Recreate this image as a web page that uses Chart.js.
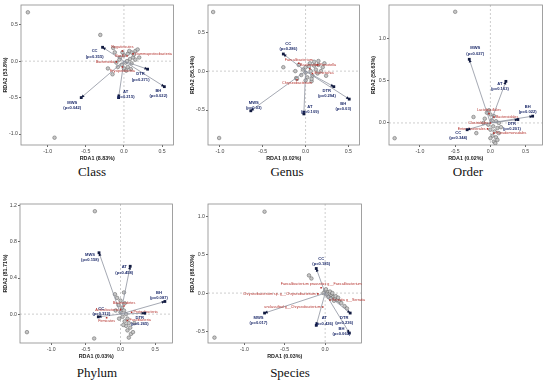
<!DOCTYPE html>
<html>
<head>
<meta charset="utf-8">
<script src="https://cdn.jsdelivr.net/npm/chart.js@4.4.0/dist/chart.umd.min.js"></script>
<style>
  body { margin: 0; background: #fff; width: 550px; height: 382px; position: relative; overflow: hidden; }
  .panel { position: absolute; }
  .cap { position: absolute; font-family: "Liberation Serif", "DejaVu Serif", serif; font-size: 13px; color: #111; transform: translate(-50%, -50%); white-space: nowrap; }
</style>
</head>
<body>
<script>
// environmental factors, same order in every panel
const envNames = ['CC', 'MWS', 'AT', 'DTR', 'BH'];

// ---- Class ----
const classSites = [[-1.26,0.67],[-0.31,0.36],[-0.91,-1.05],[-0.21,-0.10],[-0.15,-0.18],[-0.14,0.18],
  [-0.12,0.12],[-0.05,0.05],[0.0,0.08],[0.05,0.1],[0.1,0.12],[0.15,0.14],[0.18,0.16],[0.08,0.03],[0.12,0.05],
  [0.02,-0.02],[-0.03,-0.05],[0.0,-0.1],[0.05,-0.08],[-0.08,-0.08],[0.1,-0.03],[0.15,0.02],[0.07,0.14],
  [-0.02,0.12],[0.04,0.0],[0.13,0.09],[0.2,0.05],[-0.06,0.02],[0.03,-0.13],[-0.1,-0.02],[0.09,-0.11]];
const classTaxa = ['Negativicutes', 'Bacilli', 'Gammaproteobacteria', 'Bacteroidia', 'Erysipelotrichia'];
const classTaxaXY = [[-0.02,0.14],[0.04,0.07],[0.12,0.1],[-0.1,-0.01],[-0.02,-0.08]];
const classEnvXY = [[-0.28,0.19],[-0.56,-0.50],[-0.07,-0.50],[0.31,-0.11],[0.53,-0.35]];
const classEnvP = ['0.355', '0.042', '0.215', '0.271', '0.022'];
const classXTicks = [-1.0, -0.5, 0.0, 0.5];
const classYTicks = [-1.0, -0.5, 0.0, 0.5];

// ---- Genus ----
const genusSites = [[-1.08,0.76],[-1.01,-0.86],[-0.26,0.05],[0.07,-0.13],[0.24,-0.06],[-0.11,-0.09],
  [-0.08,0.08],[0.0,0.05],[0.05,0.1],[0.1,0.12],[0.15,0.08],[0.2,0.05],[0.12,0.02],[0.06,0.0],[0.0,-0.02],
  [-0.05,-0.05],[0.02,-0.08],[0.08,-0.06],[0.14,-0.03],[0.18,0.0],[-0.03,0.02],[0.1,0.07],[0.04,0.06],
  [-0.1,-0.1],[0.0,-0.12],[0.22,0.1],[0.15,0.13],[0.07,-0.1],[-0.12,0.0]];
const genusTaxa = ['Faecalibacterium', 'Prevotella', 'Bacteroides', 'Escherichia', 'Chryseobacterium'];
const genusTaxaXY = [[-0.08,0.1],[0.14,0.08],[0.05,0.03],[0.08,-0.03],[-0.1,-0.11]];
const genusEnvXY = [[-0.26,0.22],[-0.64,-0.51],[-0.02,-0.55],[0.33,-0.2],[0.51,-0.36]];
const genusEnvP = ['0.286', '0.03', '0.109', '0.294', '0.03'];
const genusXTicks = [-1.0, -0.5, 0.0, 0.5];
const genusYTicks = [-0.5, 0.0, 0.5];

// ---- Order ----
const orderSites = [[-0.5,1.31],[-1.36,-0.18],[-0.24,0.07],[-0.2,-0.12],
  [-0.05,0.12],[0.0,0.1],[0.05,0.08],[-0.08,0.05],[0.02,0.03],[0.08,0.02],[0.12,0.0],[-0.03,-0.02],
  [0.04,-0.04],[0.1,-0.06],[0.0,-0.08],[0.06,-0.1],[0.12,-0.12],[0.03,-0.15],[0.08,-0.17],[0.1,-0.2],
  [0.05,-0.22],[-0.1,0.0],[0.15,-0.05],[-0.02,0.15],[0.0,-0.18],[0.07,-0.24]];
const orderTaxa = ['Lactobacillales', 'Bacteroidales', 'Clostridiales', 'Enterobacterales', 'Pseudomonadales'];
const orderTaxaXY = [[-0.02,0.11],[0.05,0.07],[0.0,0.0],[-0.04,-0.07],[0.05,-0.12]];
const orderEnvXY = [[-0.33,-0.08],[-0.3,0.75],[0.22,0.49],[0.39,0.04],[0.6,0.08]];
const orderEnvP = ['0.344', '0.027', '0.163', '0.201', '0.022'];
const orderXTicks = [-1.0, -0.5, 0.0, 0.5];
const orderYTicks = [0.0, 0.5, 1.0];

// ---- Phylum ----
const phylumSites = [[-0.37,1.14],[-1.35,-0.2],[-0.38,-0.27],[-0.08,0.22],[0.05,0.24],
  [-0.05,0.18],[0.0,0.15],[-0.03,0.1],[0.02,0.07],[0.05,0.04],[0.0,0.02],[0.08,0.0],[0.03,-0.03],
  [0.1,-0.05],[0.06,-0.08],[0.12,-0.1],[0.08,-0.13],[0.14,-0.15],[0.1,-0.18],[0.15,-0.22],[0.12,-0.26],
  [0.18,-0.2],[-0.02,-0.05],[0.04,-0.12],[0.2,-0.1],[0.06,0.12],[-0.07,0.04]];
const phylumTaxa = ['Bacteroidetes', 'Actinobacteria', 'Proteobacteria', 'Firmicutes', 'Fusobacteria'];
const phylumTaxaXY = [[0.05,0.09],[0.0,0.05],[0.16,0.02],[-0.2,-0.04],[0.1,-0.07]];
const phylumEnvXY = [[-0.32,-0.03],[-0.31,0.68],[0.14,0.53],[0.35,0.01],[0.64,0.14]];
const phylumEnvP = ['0.312', '0.158', '0.458', '0.265', '0.087'];
const phylumXTicks = [-1.0, -0.5, 0.0, 0.5];
const phylumYTicks = [0.0, 0.4, 0.8, 1.2];

// ---- Species ----
const speciesSites = [[-0.75,1.06],[-1.37,-0.58],[-0.2,0.23],[-0.17,0.19],
  [0.0,0.03],[0.03,0.01],[0.05,-0.01],[0.08,-0.03],[0.1,-0.05],[0.12,-0.07],[0.15,-0.09],[0.18,-0.11],
  [0.2,-0.13],[0.02,-0.02],[0.06,0.02],[0.09,0.0],[0.04,-0.05],[0.07,-0.07],[0.13,-0.04],[-0.02,0.0],
  [0.11,-0.1],[0.24,-0.17],[0.27,-0.2],[0.01,0.05],[0.16,-0.06]];
const speciesTaxa = ['Faecalibacterium prausnitzii g__Faecalibacterium', 'Chryseobacterium sp. g__Chryseobacterium',
  'Serratia g__Serratia', 'unclassified g__Chryseobacterium'];
const speciesTaxaXY = [[-0.05,0.07],[-0.09,-0.01],[0.06,-0.09],[-0.03,-0.18]];
const speciesEnvXY = [[-0.11,0.32],[-0.75,-0.26],[-0.11,-0.42],[0.31,-0.26],[0.3,-0.52]];
const speciesEnvP = ['0.185', '0.017', '0.426', '0.236', '0.065'];
const speciesXTicks = [-1.0, -0.5, 0.0];
const speciesYTicks = [-0.5, 0.0, 0.5, 1.0];

const NAVY = '#1d2b6b';
const RED = '#b3302b';
const FONT = '"Liberation Sans", Arial, sans-serif';

function decorPlugin(p) {
  return {
    id: 'rdaDecor',
    beforeDatasetsDraw(chart) {
      const {ctx, chartArea: a, scales: {x, y}} = chart;
      ctx.save();
      ctx.strokeStyle = '#b8b8b8';
      ctx.lineWidth = 0.7;
      ctx.setLineDash([2, 2]);
      const x0 = x.getPixelForValue(0), y0 = y.getPixelForValue(0);
      ctx.beginPath();
      ctx.moveTo(x0, a.top); ctx.lineTo(x0, a.bottom);
      ctx.moveTo(a.left, y0); ctx.lineTo(a.right, y0);
      ctx.stroke();
      ctx.restore();
    },
    afterDatasetsDraw(chart) {
      const {ctx, chartArea: a} = chart;
      ctx.save();
      // frame
      ctx.strokeStyle = '#8a8a8a';
      ctx.lineWidth = 0.8;
      ctx.strokeRect(a.left, a.top, a.right - a.left, a.bottom - a.top);

      // taxa labels
      const tm = chart.getDatasetMeta(p.taxaIndex);
      ctx.fillStyle = RED;
      ctx.font = '3.7px ' + FONT;
      ctx.textBaseline = 'middle';
      p.taxa.forEach((name, i) => {
        const pt = tm.data[i];
        const al = p.taxaAlign[i];
        if (al === 'r') { ctx.textAlign = 'left'; ctx.fillText(name, pt.x + 2, pt.y); }
        else if (al === 'l') { ctx.textAlign = 'right'; ctx.fillText(name, pt.x - 2, pt.y); }
        else if (al === 'a') { ctx.textAlign = 'center'; ctx.fillText(name, pt.x, pt.y - 3.5); }
        else { ctx.textAlign = 'center'; ctx.fillText(name, pt.x, pt.y + 3.5); }
      });

      // arrow heads and factor labels
      envNames.forEach((n, i) => {
        const m = chart.getDatasetMeta(p.envStart + i);
        const s = m.data[0], e = m.data[1];
        const ang = Math.atan2(e.y - s.y, e.x - s.x);
        ctx.fillStyle = '#111a40';
        ctx.beginPath();
        ctx.moveTo(e.x, e.y);
        ctx.lineTo(e.x - 3.5 * Math.cos(ang - 0.45), e.y - 3.5 * Math.sin(ang - 0.45));
        ctx.lineTo(e.x - 3.5 * Math.cos(ang + 0.45), e.y - 3.5 * Math.sin(ang + 0.45));
        ctx.closePath();
        ctx.fill();
        ctx.fillRect(e.x - 1.4, e.y - 1.4, 2.8, 2.8);
        const [dx, dy] = p.envLabelOff[i];
        ctx.fillStyle = NAVY;
        ctx.textAlign = 'center';
        ctx.font = 'bold 4.1px ' + FONT;
        ctx.fillText(n, e.x + dx, e.y + dy);
        ctx.fillText('(p=' + p.envP[i] + ')', e.x + dx, e.y + dy + 5.2);
      });
      ctx.restore();
    }
  };
}

function makePanel(p) {
  const div = document.createElement('div');
  div.className = 'panel';
  div.style.left = p.box[0] + 'px';
  div.style.top = p.box[1] + 'px';
  const cv = document.createElement('canvas');
  cv.width = p.box[2]; cv.height = p.box[3];
  cv.style.width = p.box[2] + 'px'; cv.style.height = p.box[3] + 'px';
  div.appendChild(cv);
  document.body.appendChild(div);

  const cap = document.createElement('div');
  cap.className = 'cap';
  cap.textContent = p.caption;
  cap.style.left = p.capPos[0] + 'px';
  cap.style.top = p.capPos[1] + 'px';
  document.body.appendChild(cap);

  const datasets = [];
  datasets.push({
    type: 'scatter', label: 'taxa', order: 0,
    data: p.taxaXY.map(([x, y]) => ({x, y})),
    pointRadius: 1.1, pointStyle: 'rect', backgroundColor: RED, borderColor: RED, borderWidth: 0
  });
  p.taxaIndex = 0;
  p.envStart = 1;
  p.envXY.forEach(([x, y]) => {
    datasets.push({
      type: 'line', order: 1,
      data: [{x: 0, y: 0}, {x, y}],
      borderColor: '#8e93a0', borderWidth: 0.8, pointRadius: 0, fill: false
    });
  });
  datasets.push({
    type: 'scatter', label: 'sites', order: 2,
    data: p.sites.map(([x, y]) => ({x, y})),
    pointRadius: 1.8, backgroundColor: '#c6c6c6', borderColor: '#5a5a5a', borderWidth: 0.5
  });

  const tickFont = {family: FONT, size: 5.2};
  const titleFont = {family: FONT, size: 5.4, weight: 'bold'};
  new Chart(cv, {
    type: 'scatter',
    data: {datasets},
    options: {
      responsive: false,
      animation: false,
      events: [],
      layout: {padding: {top: 5, right: 1, left: 0, bottom: 0}},
      plugins: {legend: {display: false}, tooltip: {enabled: false}},
      scales: {
        x: {
          type: 'linear', min: p.xRange[0], max: p.xRange[1],
          afterBuildTicks: s => { s.ticks = p.xTicks.map(v => ({value: v})); },
          afterFit: s => { s.height = p.xAxisH; },
          ticks: {font: tickFont, color: '#444', padding: 1, maxRotation: 0, callback: v => v.toFixed(1)},
          grid: {drawOnChartArea: false, drawTicks: true, tickLength: 2, color: '#666'},
          border: {display: false},
          title: {display: true, text: p.xTitle, font: titleFont, color: '#222', padding: {top: 0, bottom: 1}}
        },
        y: {
          type: 'linear', min: p.yRange[0], max: p.yRange[1],
          afterBuildTicks: s => { s.ticks = p.yTicks.map(v => ({value: v})); },
          afterFit: s => { s.width = p.yAxisW; },
          ticks: {font: tickFont, color: '#444', padding: 1, callback: v => v.toFixed(1)},
          grid: {drawOnChartArea: false, drawTicks: true, tickLength: 2, color: '#666'},
          border: {display: false},
          title: {display: true, text: p.yTitle, font: titleFont, color: '#222', padding: {top: 2, bottom: 0}}
        }
      }
    },
    plugins: [decorPlugin(p)]
  });
}

makePanel({
  caption: 'Class', capPos: [92, 172], box: [0, 0, 178, 163], yAxisW: 21, xAxisH: 18,
  xRange: [-1.35, 0.65], yRange: [-1.15, 0.77], xTicks: classXTicks, yTicks: classYTicks,
  xTitle: 'RDA1 (8.83%)', yTitle: 'RDA2 (53.8%)',
  sites: classSites, taxa: classTaxa, taxaXY: classTaxaXY, taxaAlign: ['a', 'l', 'r', 'l', 'b'],
  envXY: classEnvXY, envP: classEnvP, envLabelOff: [[-8, 4], [-9, 5], [7, -6], [-7, 5], [-6, 4]]
});
makePanel({
  caption: 'Genus', capPos: [287, 172], box: [187, 0, 177, 163], yAxisW: 21, xAxisH: 18,
  xRange: [-1.14, 0.63], yRange: [-0.95, 0.85], xTicks: genusXTicks, yTicks: genusYTicks,
  xTitle: 'RDA1 (0.02%)', yTitle: 'RDA2 (56.14%)',
  sites: genusSites, taxa: genusTaxa, taxaXY: genusTaxaXY, taxaAlign: ['a', 'r', 'a', 'r', 'b'],
  envXY: genusEnvXY, envP: genusEnvP, envLabelOff: [[5, -10], [3, -8], [6, -7], [-7, 4], [-6, 5]]
});
makePanel({
  caption: 'Order', capPos: [468, 172], box: [368, 0, 179, 163], yAxisW: 21, xAxisH: 18,
  xRange: [-1.44, 0.74], yRange: [-0.26, 1.39], xTicks: orderXTicks, yTicks: orderYTicks,
  xTitle: 'RDA1 (0.02%)', yTitle: 'RDA2 (58.63%)',
  sites: orderSites, taxa: orderTaxa, taxaXY: orderTaxaXY, taxaAlign: ['a', 'r', 'l', 'l', 'r'],
  envXY: orderEnvXY, envP: orderEnvP, envLabelOff: [[-9, 3], [6, -11], [-6, 2], [-6, 4], [-5, -9]]
});
makePanel({
  caption: 'Phylum', capPos: [97, 373], box: [0, 199, 177, 162], yAxisW: 20, xAxisH: 18,
  xRange: [-1.45, 0.75], yRange: [-0.32, 1.22], xTicks: phylumXTicks, yTicks: phylumYTicks,
  xTitle: 'RDA1 (0.03%)', yTitle: 'RDA2 (81.71%)',
  sites: phylumSites, taxa: phylumTaxa, taxaXY: phylumTaxaXY, taxaAlign: ['a', 'l', 'r', 'b', 'r'],
  envXY: phylumEnvXY, envP: phylumEnvP, envLabelOff: [[3, -8], [-9, 2], [-6, 1], [-5, 5], [-6, -9]]
});
makePanel({
  caption: 'Species', capPos: [290, 373], box: [187, 199, 179, 162], yAxisW: 21, xAxisH: 18,
  xRange: [-1.45, 0.45], yRange: [-0.65, 1.16], xTicks: speciesXTicks, yTicks: speciesYTicks,
  xTitle: 'RDA1 (0.03%)', yTitle: 'RDA2 (68.03%)',
  sites: speciesSites, taxa: speciesTaxa, taxaXY: speciesTaxaXY, taxaAlign: ['a', 'l', 'r', 'l'],
  envXY: speciesEnvXY, envP: speciesEnvP, envLabelOff: [[5, -10], [-6, 5], [8, -7], [-6, 5], [-8, -4]]
});
</script>
</body>
</html>
